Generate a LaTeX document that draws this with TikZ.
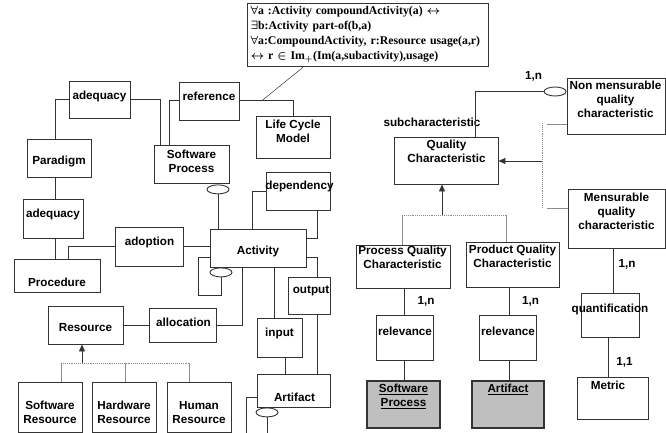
\documentclass[tikz,border=0pt]{standalone}
\usepackage{fontspec}
\setmainfont{Liberation Sans}
\newfontfamily\formfont{Liberation Serif}
\usepackage{tikz,xcolor}
\usetikzlibrary{shapes.geometric,arrows.meta,calc}

\definecolor{linegray}{gray}{0.2}
\definecolor{bargray}{gray}{0.55}
\definecolor{fillgray}{gray}{0.75}

\tikzset{
 ebox/.style 2 args={draw=linegray, line width=0.9pt, minimum width=#1pt, minimum height=#2pt, inner sep=0pt},
 gbox/.style 2 args={ebox={#1}{#2}, fill=fillgray, line width=1.3pt},
 txt/.style={font=\bfseries\fontsize{11.7}{14}\selectfont, align=center, inner sep=0pt},
 oval/.style={draw=linegray, line width=0.9pt, ellipse, minimum width=22pt, minimum height=9pt, inner sep=0pt},
 conn/.style={draw=linegray, line width=1pt},
 sub/.style={draw=bargray, line width=0.9pt},
 bar/.style={draw=bargray, line width=0.9pt, densely dotted},
 isa/.style={draw=linegray, line width=0.9pt, -{Triangle[length=7pt,width=6pt]}},
 thinl/.style={draw=linegray, line width=0.5pt}
}

\begin{document}
\begin{tikzpicture}[x=1pt,y=-1pt]
\useasboundingbox (0,0) rectangle (666,433);

%formula
\node[ebox={241}{63}, align=left, text width=234pt, inner xsep=3.5pt, font=\formfont\fontsize{11.8}{15}\selectfont\bfseries\boldmath] (form) at (367.5,34.5)
 {$\forall$a :Activity compoundActivity(a) $\leftrightarrow$\\
  $\exists$b:Activity part-of(b,a)\\
  $\forall$a:CompoundActivity, r:Resource usage(a,r)\\
  $\leftrightarrow$ r $\in$ Im$_+$(Im(a,subactivity),usage)};


%process part
\node[ebox={61}{37}] (adq1) at (99.5,99.5) {};   \node[txt] (adq1-l) at (99.5,96) {adequacy};
\node[ebox={64}{38}] (para) at (59,158) {};      \node[txt] (para-l) at (59,161) {Paradigm};
\node[ebox={60}{38}] (ref) at (209,101) {};      \node[txt] (ref-l) at (209,96) {reference};
\node[ebox={74}{42}] (lcm) at (293,137) {};      \node[txt] (lcm-l) at (293,131.5) {Life Cycle\\Model};
\node[ebox={75}{38}] (sp) at (191.5,164) {};     \node[txt] (sp-l) at (191.5,161) {Software\\Process};
\node[ebox={60}{39}] (adq2) at (53,218.5) {};    \node[txt] (adq2-l) at (53,214) {adequacy};
\node[ebox={86}{33}] (proc) at (57,275.5) {};    \node[txt] (proc-l) at (57,282) {Procedure};
\node[ebox={68}{39}] (adop) at (149,246.5) {};   \node[txt] (adop-l) at (149.5,242) {adoption};
\node[ebox={96}{38}] (act) at (258,248) {};      \node[txt] (act-l) at (258,251) {Activity};
\node[ebox={64}{38}] (dep) at (298,191) {};      \node[txt] (dep-l) at (299.5,186) {dependency};
\node[ebox={42}{37}] (out) at (309,295.5) {};    \node[txt] (out-l) at (311,291) {output};
\node[ebox={67}{34}] (alloc) at (182.5,325) {};  \node[txt] (alloc-l) at (183.5,322) {allocation};
\node[ebox={45}{39}] (inp) at (279.5,337.5) {};  \node[txt] (inp-l) at (279.5,333) {input};
\node[ebox={73}{33}] (art) at (293.5,390.5) {};  \node[txt] (art-l) at (294.5,397) {Artifact};

\node[oval, anchor=north] (e1) at ([xshift=26.5,yshift=-1]sp.south) {};
\node[oval, anchor=north] (e2) at ([xshift=-37]act.south) {};
\node[oval, anchor=north] (e3) at ([xshift=-26.5]art.south) {};

\coordinate (artdown) at (246,433);
\coordinate (ovdown) at (267,433);

\draw[conn] (adq1.west) -| ([xshift=-4]para.north);
\draw[conn] (adq1.east) -| ([xshift=-31.5]sp.north);
\draw[conn] (ref.west) -| ([xshift=-22.5]sp.north);
\draw[conn] (ref.east) -| (lcm.north);
\draw[thinl] ([xshift=22]ref.east) -- ([xshift=-63.5]form.south);
\draw[conn] ([xshift=-4]para.south) -- ([xshift=-4]para.south |- adq2.north);
\draw[conn] ([xshift=2]adq2.south) -- ([xshift=2]adq2.south |- proc.north);
\draw[conn] ([xshift=11]proc.north) |- (adop.west);
\draw[conn] (adop.east) -- (adop.east -| act.west);
\draw[conn] (e1.south) -- (e1.south |- act.north);
\draw[conn] ([yshift=-9]act.west) -- ++(-11,0) -- ++(0,38) -| (e2.south);
\draw[conn] ([xshift=-6]act.north) |- (dep.west);
\draw[conn] ([xshift=19]dep.south) |- ([yshift=10]act.east);
\draw[conn] ([yshift=-9]act.east) -| ([xshift=8]out.north);
\draw[conn] ([xshift=-16]act.south) |- (alloc.east);
\draw[conn] ([xshift=16]act.south) -- ([xshift=16]act.south |- inp.north);
\draw[conn] ([xshift=5.5]inp.south) -- ([xshift=5.5]inp.south |- art.north);
\draw[conn] ([xshift=8]out.south) -- ([xshift=8]out.south |- art.north);
\draw[conn] ([yshift=-6.5]art.west) -| (artdown);
\draw[conn] (e3.south) -- (ovdown);


%resources
\node[ebox={75}{38}] (res) at (85.5,325) {};     \node[txt] (res-l) at (85.5,328) {Resource};
\node[ebox={64}{50}] (swr) at (50,407) {};       \node[txt] (swr-l) at (50,412.5) {Software\\Resource};
\node[ebox={64}{50}] (hwr) at (124,407) {};      \node[txt] (hwr-l) at (124,412.5) {Hardware\\Resource};
\node[ebox={64}{50}] (hur) at (199,407) {};      \node[txt] (hur-l) at (199,412.5) {Human\\Resource};

\coordinate (rbar) at (82,363);
\draw[conn] (res.east) -- (alloc.west);
\draw[isa] (rbar) -- (rbar |- res.south);
\draw[bar] ([xshift=11]swr.north |- rbar) -- ([xshift=-10]hur.north |- rbar);
\draw[sub] ([xshift=11]swr.north) -- ([xshift=11]swr.north |- rbar);
\draw[sub] ([xshift=1]hwr.north) -- ([xshift=1]hwr.north |- rbar);
\draw[sub] ([xshift=-10]hur.north) -- ([xshift=-10]hur.north |- rbar);


%quality part
\node[ebox={98}{56}] (nmq) at (616,106) {};      \node[txt] (nmq-l) at (615.5,99) {Non mensurable\\quality\\characteristic};
\node[ebox={104}{47}] (qc) at (446,160.5) {};    \node[txt] (qc-l) at (446.5,151) {Quality\\Characteristic};
\node[ebox={97}{59}] (mq) at (616.5,218.5) {};   \node[txt] (mq-l) at (616.5,211) {Mensurable\\quality\\characteristic};
\node[ebox={94}{43}] (pqc) at (403,266.5) {};    \node[txt] (pqc-l) at (402.5,257.5) {Process Quality\\Characteristic};
\node[ebox={93}{45}] (prqc) at (512.5,264.5) {}; \node[txt] (prqc-l) at (512.5,256.5) {Product Quality\\Characteristic};
\node[ebox={57}{45}] (rel1) at (404.5,337.5) {}; \node[txt] (rel1-l) at (405,331) {relevance};
\node[ebox={57}{45}] (rel2) at (507.5,337.5) {}; \node[txt] (rel2-l) at (508,331) {relevance};
\node[gbox={73}{47}] (gsp) at (403.5,404.5) {};  \node[txt] (gsp-l) at (403.5,396.5) {\underline{Software}\\\underline{Process}};
\node[gbox={72}{47}] (gart) at (508,404.5) {};   \node[txt] (gart-l) at (508,389) {\underline{Artifact}};
\node[ebox={58}{44}] (quant) at (610,315) {};    \node[txt] (quant-l) at (610,309) {quantification};
\node[ebox={71}{42}] (met) at (612.5,398) {};    \node[txt] (met-l) at (608,385) {Metric};

\node[oval, anchor=east] (e4) at ([yshift=14.5]nmq.west) {};

\node[txt] (n1) at (533.5,76) {1,n};
\node[txt] (subc) at (432,122) {subcharacteristic};
\node[txt] (n2) at (627,264) {1,n};
\node[txt] (n3) at (624.5,362) {1,1};
\node[txt] (n4) at (426,301) {1,n};
\node[txt] (n5) at (530.5,301) {1,n};

\draw[conn] ([xshift=29]qc.north) |- (e4.west);

\coordinate (qtop) at (542,123);
\coordinate (qbot) at (542,207);
\coordinate (qmid) at (542,161);
\draw[bar] (qtop) -- (qbot);
\draw[sub] ([yshift=-18]nmq.west) -- ++(-20,0);
\draw[sub] ([yshift=10.5]mq.west) -- ++(-21,0);
\draw[isa] (qmid) -- (qmid -| qc.east);

\coordinate (qbar) at (442,215);
\draw[isa] (qbar) -- (qbar |- qc.south);
\draw[bar] ([xshift=-1]pqc.north |- qbar) -- ([xshift=-6.5]prqc.north |- qbar);
\draw[sub] ([xshift=-1]pqc.north) -- ([xshift=-1]pqc.north |- qbar);
\draw[sub] ([xshift=-6.5]prqc.north) -- ([xshift=-6.5]prqc.north |- qbar);

\draw[conn] ([xshift=1]pqc.south) -- ([xshift=1]pqc.south |- rel1.north);
\draw[conn] ([xshift=-3.5]prqc.south) -- ([xshift=-3.5]prqc.south |- rel2.north);
\draw[conn] (rel1.south) -- (rel1.south |- gsp.north);
\draw[conn] ([xshift=1.5]rel2.south) -- ([xshift=1.5]rel2.south |- gart.north);
\draw[conn] ([xshift=-3.5]mq.south) -- ([xshift=-3.5]mq.south |- quant.north);
\draw[conn] ([xshift=-2]quant.south) -- ([xshift=-2]quant.south |- met.north);

\end{tikzpicture}
\end{document}
